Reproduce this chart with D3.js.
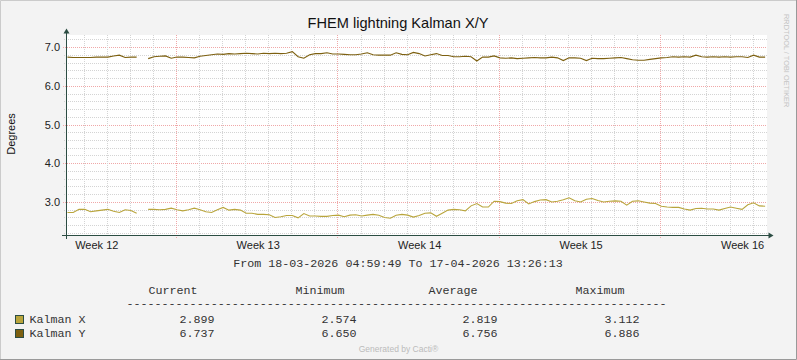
<!DOCTYPE html>
<html><head><meta charset="utf-8">
<script src="https://cdn.jsdelivr.net/npm/d3@7"></script>
<style>body{margin:0;background:#f3f3f3}svg{display:block}</style>
</head><body><svg id="c" width="797" height="360"></svg>
<script>
const chartTitle = "FHEM lightning Kalman X/Y";
const yAxisTitle = "Degrees";
const watermark = "RRDTOOL / TOBI OETIKER";
const footer = "Generated by Cacti®";
const rangeStart = "2026-03-18T04:59:49Z";
const rangeEnd = "2026-04-17T13:26:13Z";
const rangeText = "From 18-03-2026 04:59:49 To 17-04-2026 13:26:13";
const dataStart = "2026-03-18T06:00:00Z";
const stepHours = 6;
const yDomain = [2.148, 7.31];
const yTickLabels = [3.0, 4.0, 5.0, 6.0, 7.0];
const seriesNames = ["Kalman X", "Kalman Y"];
const kalmanX = [2.73,2.73,2.81,2.81,2.75,2.77,2.79,2.81,2.76,2.73,2.80,2.78,2.71,null,
2.81,2.81,2.80,2.81,2.84,2.80,2.77,2.80,2.84,2.80,2.75,2.73,2.80,2.86,2.79,2.81,
2.79,2.71,2.71,2.68,2.68,2.67,2.60,2.62,2.65,2.65,2.59,2.70,2.64,2.64,2.63,2.63,
2.65,2.66,2.62,2.66,2.67,2.64,2.66,2.68,2.66,2.60,2.58,2.66,2.68,2.66,2.61,2.65,
2.71,2.72,2.63,2.71,2.79,2.81,2.80,2.77,2.90,2.96,2.87,2.87,3.02,3.01,2.97,2.96,
3.03,3.06,2.95,3.01,3.05,3.06,3.00,3.02,3.06,3.11,3.03,3.00,3.07,3.09,3.04,3.00,
3.02,3.03,3.02,2.92,3.02,3.03,3.00,2.97,2.96,2.89,2.87,2.86,2.86,2.82,2.79,2.83,
2.84,2.82,2.82,2.79,2.83,2.87,2.84,2.81,2.93,2.98,2.90,2.89];
const kalmanY = [6.74,6.73,6.73,6.73,6.73,6.74,6.74,6.74,6.77,6.79,6.73,6.74,6.74,null,
6.70,6.75,6.76,6.77,6.71,6.74,6.74,6.73,6.72,6.76,6.78,6.80,6.82,6.81,6.83,6.82,
6.83,6.84,6.83,6.82,6.84,6.83,6.84,6.83,6.84,6.88,6.75,6.71,6.80,6.83,6.83,6.85,
6.82,6.82,6.81,6.80,6.80,6.82,6.85,6.80,6.79,6.79,6.79,6.85,6.81,6.80,6.86,6.83,
6.77,6.80,6.83,6.78,6.78,6.75,6.75,6.76,6.75,6.64,6.74,6.74,6.77,6.72,6.71,6.72,
6.70,6.71,6.72,6.73,6.72,6.72,6.74,6.72,6.65,6.72,6.72,6.71,6.65,6.71,6.70,6.70,
6.71,6.72,6.73,6.70,6.67,6.66,6.66,6.68,6.70,6.72,6.73,6.75,6.74,6.75,6.74,6.79,
6.75,6.74,6.75,6.74,6.75,6.74,6.75,6.75,6.73,6.79,6.74,6.74];
const legendHeaders = ["Current", "Minimum", "Average", "Maximum"];
const statsX = ["2.899", "2.574", "2.819", "3.112"];
const statsY = ["6.737", "6.650", "6.756", "6.886"];

// ---- styles / layout ----
const colors = ["#b9a53c", "#7d6010"];
const axisColor = "#2c4d43";
const W = 797, H = 360;
const pLeft = 66.5, pRight = 766.5, pTop = 35, pBottom = 235;

const svg = d3.select("#c");
svg.append("rect").attr("width", W).attr("height", H).attr("fill", "#f3f3f3");
svg.append("path").attr("d", `M0.5,${H}V0.5H${W}`).attr("fill","none").attr("stroke","#cbcbcb");
svg.append("path").attr("d", `M${W-0.5},0V${H-0.5}H0`).attr("fill","none").attr("stroke","#999");

const x = d3.scaleUtc().domain([new Date(rangeStart), new Date(rangeEnd)]).range([pLeft, pRight]);
const y = d3.scaleLinear().domain(yDomain).range([pBottom, pTop]);

svg.append("rect").attr("x", 67).attr("y", pTop).attr("width", 700).attr("height", pBottom - pTop).attr("fill", "#fff");

const g = svg.append("g");
const px = v => Math.round(v) - 0.5;
const pyy = v => Math.round(v) + 0.5;

const minorY = d3.range(22, 73, 2).filter(d => d % 10 !== 0).map(d => d / 10);
g.selectAll(".hmin").data(minorY).join("line")
  .attr("x1", 64).attr("x2", 767).attr("y1", d => pyy(y(d))).attr("y2", d => pyy(y(d)))
  .attr("stroke", "#d4d4d4").attr("stroke-dasharray", "1,1");
g.selectAll(".hmaj").data(yTickLabels).join("line")
  .attr("x1", 63).attr("x2", 767).attr("y1", d => pyy(y(d))).attr("y2", d => pyy(y(d)))
  .attr("stroke", "#f0a8a8").attr("stroke-dasharray", "1,1");

const days = d3.utcDay.range(x.domain()[0], x.domain()[1]);
const mondays = d3.utcMonday.range(x.domain()[0], x.domain()[1]);
const isMonday = d => d.getUTCDay() === 1;
g.selectAll(".vmin").data(days.filter(d => !isMonday(d))).join("line")
  .attr("x1", d => px(x(d))).attr("x2", d => px(x(d))).attr("y1", pTop).attr("y2", pBottom + 2)
  .attr("stroke", "#d4d4d4").attr("stroke-dasharray", "1,1");
g.selectAll(".vmaj").data(mondays).join("line")
  .attr("x1", d => px(x(d))).attr("x2", d => px(x(d))).attr("y1", pTop).attr("y2", pBottom + 3)
  .attr("stroke", "#f0a8a8").attr("stroke-dasharray", "1,1");

const yAxis = d3.axisLeft(y).tickValues(yTickLabels).tickFormat(d3.format(".1f")).tickSize(0).tickPadding(7);
const ya = svg.append("g").attr("transform", "translate(67,0)").call(yAxis);
ya.select(".domain").remove();
ya.selectAll("text").attr("font-family", "Liberation Sans, Arial, sans-serif").attr("font-size", 11).attr("fill", "#222");

const weekStarts = d3.utcMonday.range(d3.utcMonday.floor(x.domain()[0]), x.domain()[1]);
const labelTimes = weekStarts.map(d => new Date(+d + 3.5 * 864e5)).filter(d => d <= x.domain()[1]);
const xAxis = d3.axisBottom(x).tickValues(labelTimes).tickFormat(d => "Week " + d3.utcFormat("%V")(new Date(+d - 3.5 * 864e5))).tickSize(0).tickPadding(6);
const xa = svg.append("g").attr("transform", `translate(0,${pBottom})`).call(xAxis);
xa.select(".domain").remove();
xa.selectAll("text").attr("font-family", "Liberation Sans, Arial, sans-serif").attr("font-size", 11).attr("fill", "#222");

const times = kalmanX.map((_, i) => new Date(+new Date(dataStart) + i * stepHours * 3600e3));
const line = d3.line().defined(d => d.v !== null).x(d => x(d.t)).y(d => y(d.v));
[kalmanX, kalmanY].forEach((s, k) => {
  svg.append("path").datum(s.map((v, i) => ({t: times[i], v})))
    .attr("d", line).attr("fill", "none").attr("stroke", colors[k]).attr("stroke-width", 1.1);
});

svg.append("line").attr("x1", 62).attr("x2", 769).attr("y1", pBottom + 0.5).attr("y2", pBottom + 0.5).attr("stroke", axisColor);
svg.append("line").attr("x1", pLeft).attr("x2", pLeft).attr("y1", 33).attr("y2", pBottom + 4).attr("stroke", axisColor);
svg.append("path").attr("d", `M773.5,${pBottom + 0.5}L768.5,${pBottom - 2.5}L768.5,${pBottom + 3.5}Z`).attr("fill", axisColor);
svg.append("path").attr("d", `M${pLeft},28.5L${pLeft - 3},33.5L${pLeft + 3},33.5Z`).attr("fill", axisColor);

svg.append("text").attr("x", 398).attr("y", 28).attr("text-anchor", "middle")
  .attr("font-family", "Liberation Sans, Arial, sans-serif").attr("font-size", 14.6).attr("fill", "#111").text(chartTitle);
svg.append("text").attr("transform", "translate(15,134) rotate(-90)").attr("text-anchor", "middle")
  .attr("font-family", "Liberation Sans, Arial, sans-serif").attr("font-size", 11).attr("fill", "#111").text(yAxisTitle);
svg.append("text").attr("transform", "translate(783.5,14) rotate(90)")
  .attr("font-family", "Liberation Sans, Arial, sans-serif").attr("font-size", 7.4).attr("fill", "#c4c4c4").text(watermark);

const mono = "Liberation Mono, Courier New, monospace";
const lg = svg.append("g").attr("font-family", mono).attr("font-size", 11.7).attr("fill", "#333");
lg.append("text").attr("x", 398).attr("y", 267).attr("text-anchor", "middle").text(rangeText);
const colX = [148.5, 295.5, 428.5, 575.5];
lg.selectAll(".hdr").data(legendHeaders).join("text").attr("x", (d, i) => colX[i]).attr("y", 294).text(d => d);
lg.append("text").attr("x", 126.5).attr("y", 306.5).text("-".repeat(77));
const valX = [179.5, 321.5, 462.5, 604.5];
[statsX, statsY].forEach((row, k) => {
  const by = 323 + k * 13.5;
  svg.append("rect").attr("x", 15.5).attr("y", 315.5 + k * 14).attr("width", 8).attr("height", 8)
    .attr("fill", colors[k]).attr("stroke", "#2c4d43");
  lg.append("text").attr("x", 29.5).attr("y", by).text(seriesNames[k]);
  row.forEach((v, i) => lg.append("text").attr("x", valX[i]).attr("y", by).text(v));
});
svg.append("text").attr("x", 398.5).attr("y", 352).attr("text-anchor", "middle")
  .attr("font-family", "Liberation Sans, Arial, sans-serif").attr("font-size", 8.5).attr("fill", "#bbbbbb").text(footer);
</script></body></html>
